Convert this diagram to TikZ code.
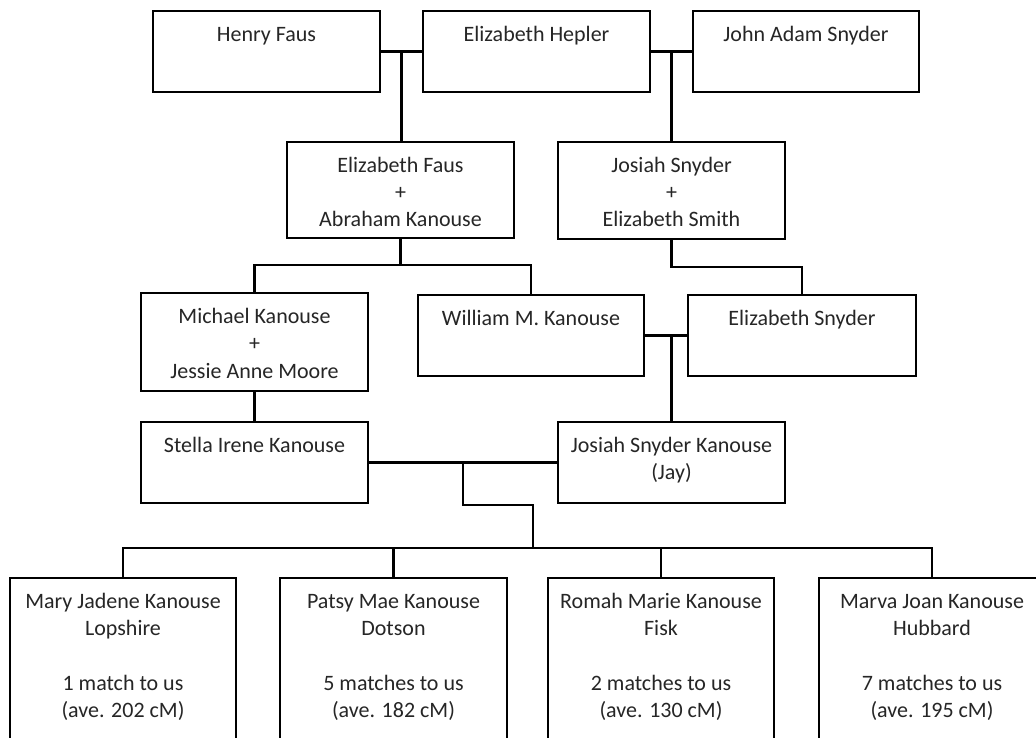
\documentclass[tikz,border=0pt]{standalone}
\usepackage{fontspec}
\setmainfont{Carlito}
\usetikzlibrary{calc}
\definecolor{txt}{HTML}{262626}
\tikzset{
  box/.style={draw, line width=1.6pt, inner sep=0pt, fill=white},
  lbl/.style={anchor=north, inner sep=0pt, align=center, text=txt, font=\fontsize{22}{27.3}\selectfont, yshift=-13pt},
  link/.style={line width=2.8pt, line join=miter},
}
\newcommand{\fs}{\rule{0pt}{18pt}}
\begin{document}
\begin{tikzpicture}[x=1pt,y=-1pt]
\useasboundingbox (0,0) rectangle (1036,738);
\clip (0,0) rectangle (1036,738);
\fill[white] (0,0) rectangle (1036,738);

% connector bends
\coordinate (b1) at (400.5,265);
\coordinate (b2) at (671.5,267);
\coordinate (k1) at (463,463);
\coordinate (k2) at (533,505);
\coordinate (bus) at (533,548);

% boxes
\node[box, minimum width=227pt, minimum height=81pt] (hf) at (266.5,51.5) {};
\node[box, minimum width=227pt, minimum height=81pt] (eh) at (536.5,51.5) {};
\node[box, minimum width=226pt, minimum height=81pt] (js) at (806,51.5) {};
\node[box, minimum width=227pt, minimum height=96pt] (ef) at (400.5,190) {};
\node[box, minimum width=227pt, minimum height=97pt] (jss) at (671.5,190.5) {};
\node[box, minimum width=227pt, minimum height=98pt] (mk) at (254.5,342) {};
\node[box, minimum width=226pt, minimum height=81pt] (wk) at (531,335.5) {};
\node[box, minimum width=228pt, minimum height=81pt] (es) at (802,335.5) {};
\node[box, minimum width=227pt, minimum height=81pt] (sk) at (254.5,462.5) {};
\node[box, minimum width=227pt, minimum height=81pt] (jk) at (671.5,462.5) {};
\node[box, minimum width=226pt, minimum height=212pt] (c1) at (123,684) {};
\node[box, minimum width=227pt, minimum height=212pt] (c2) at (393.5,684) {};
\node[box, minimum width=226pt, minimum height=212pt] (c3) at (661,684) {};
\node[box, minimum width=226pt, minimum height=212pt] (c4) at (932,684) {};

% links
\draw[link] (hf.east) -- (eh.west);
\coordinate (m1) at ($(hf.east)!0.5!(eh.west)$);
\draw[link] (m1) -- (m1 |- ef.north);
\draw[link] (eh.east) -- (js.west);
\coordinate (m2) at ($(eh.east)!0.5!(js.west)$);
\draw[link] (m2) -- (m2 |- jss.north);
\draw[link] (ef.south) -- (ef.south |- b1);
\draw[link] (mk.north) -- (mk.north |- b1) -- (wk.north |- b1) -- (wk.north);
\draw[link] (jss.south) -- (jss.south |- b2) -| (es.north);
\draw[link] (wk.east) -- (es.west);
\draw[link] (jk.north |- wk.east) -- (jk.north);
\draw[link] (mk.south) -- (sk.north);
\draw[link] (sk.east) -- (jk.west);
\draw[link] (k1) |- (k2) -- (bus);
\draw[link] (c1.north) -- (c1.north |- bus) -- (c4.north |- bus) -- (c4.north);
\draw[link] (c2.north) -- (c2.north |- bus);
\draw[link] (c3.north) -- (c3.north |- bus);

% labels
\node[lbl] (hf-t) at (hf.north) {\fs Henry Faus};
\node[lbl] (eh-t) at (eh.north) {\fs Elizabeth Hepler};
\node[lbl] (js-t) at (js.north) {\fs John Adam Snyder};
\node[lbl] (ef-t) at (ef.north) {\fs Elizabeth Faus\\+\\Abraham Kanouse};
\node[lbl] (jss-t) at (jss.north) {\fs Josiah Snyder\\+\\Elizabeth Smith};
\node[lbl] (mk-t) at (mk.north) {\fs Michael Kanouse\\+\\Jessie Anne Moore};
\node[lbl] (wk-t) at (wk.north) {\fs William M. Kanouse};
\node[lbl] (es-t) at (es.north) {\fs Elizabeth Snyder};
\node[lbl] (sk-t) at (sk.north) {\fs Stella Irene Kanouse};
\node[lbl] (jk-t) at (jk.north) {\fs Josiah Snyder Kanouse\\(Jay)};
\node[lbl] (c1-t) at (c1.north) {\fs Mary Jadene Kanouse\\Lopshire\\[27.3pt]1 match to us\\(ave. 202 cM)};
\node[lbl] (c2-t) at (c2.north) {\fs Patsy Mae Kanouse\\Dotson\\[27.3pt]5 matches to us\\(ave. 182 cM)};
\node[lbl] (c3-t) at (c3.north) {\fs Romah Marie Kanouse\\Fisk\\[27.3pt]2 matches to us\\(ave. 130 cM)};
\node[lbl] (c4-t) at (c4.north) {\fs Marva Joan Kanouse\\Hubbard\\[27.3pt]7 matches to us\\(ave. 195 cM)};
\end{tikzpicture}
\end{document}
